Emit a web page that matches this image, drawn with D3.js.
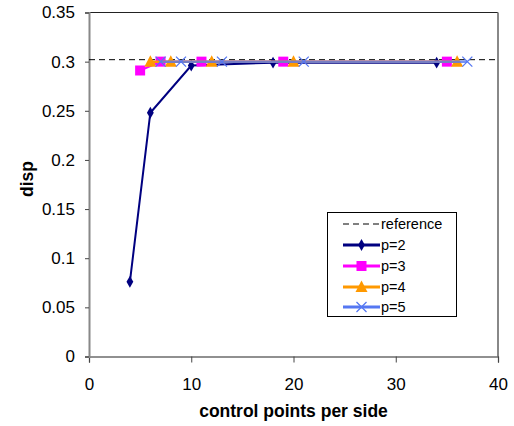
<!DOCTYPE html>
<html>
<head>
<meta charset="utf-8">
<script src="https://cdn.jsdelivr.net/npm/d3@7"></script>
<style>
body { margin: 0; background: #fff; }
svg { display: block; font-family: "Liberation Sans", Arial, sans-serif; }
</style>
</head>
<body>
<svg width="514" height="426"></svg>
<script>
// values
const xP2 = [4, 6, 10, 18, 34];
const yP2 = [0.076, 0.248, 0.296, 0.299, 0.299];
const xP3 = [5, 7, 11, 19, 35];
const yP3 = [0.291, 0.3, 0.3, 0.3, 0.3];
const xP4 = [6, 8, 12, 20, 36];
const yP4 = [0.3, 0.3, 0.3, 0.3, 0.3];
const xP5 = [7, 9, 13, 21, 37];
const yP5 = [0.3, 0.3, 0.3, 0.3, 0.3];
const refValue = 0.302;
const xTicks = [0, 10, 20, 30, 40];
const yTicks = [0, 0.05, 0.1, 0.15, 0.2, 0.25, 0.3, 0.35];
const seriesNames = ["p=2", "p=3", "p=4", "p=5"];

const series = [
  {name: seriesNames[0], xs: xP2, ys: yP2, color: "#000080", width: 2, marker: "diamond"},
  {name: seriesNames[1], xs: xP3, ys: yP3, color: "#FF00FF", width: 2, marker: "square"},
  {name: seriesNames[2], xs: xP4, ys: yP4, color: "#FF9900", width: 2.5, marker: "triangle"},
  {name: seriesNames[3], xs: xP5, ys: yP5, color: "#5577F2", width: 2.5, marker: "x"},
];

const pLeft = 89, pRight = 498, pTop = 12.5, pBottom = 356.5;
const svg = d3.select("svg");

const x = d3.scaleLinear().domain([0, 40]).range([pLeft, pRight]);
const y = d3.scaleLinear().domain([0, 0.35]).range([pBottom, pTop]);

// plot frame
svg.append("line").attr("x1", pLeft).attr("x2", pRight).attr("y1", pTop).attr("y2", pTop)
  .attr("stroke", "#222").attr("stroke-width", 1.2);
svg.append("line").attr("x1", pRight).attr("x2", pRight).attr("y1", pTop).attr("y2", pBottom)
  .attr("stroke", "#888").attr("stroke-width", 2);

// axes
const xAxis = svg.append("g").attr("transform", `translate(0,${pBottom})`)
  .call(d3.axisBottom(x).tickValues(xTicks).tickSize(6).tickPadding(15).tickFormat(d3.format("d")));
const yAxis = svg.append("g").attr("transform", `translate(${pLeft},0)`)
  .call(d3.axisLeft(y).tickValues(yTicks).tickSize(4).tickPadding(10).tickFormat(d => d === 0 ? "0" : String(+d.toFixed(2))));
xAxis.select(".domain").attr("stroke", "#222").attr("stroke-width", 1.2);
yAxis.select(".domain").attr("stroke", "#888").attr("stroke-width", 2);
[xAxis, yAxis].forEach(a => {
  a.selectAll(".tick line").attr("stroke", "#444");
  a.selectAll(".tick text").attr("fill", "#000").style("font-size", "17px")
    .style("font-family", "'Liberation Sans', Arial, sans-serif");
});

// reference line
svg.append("line").attr("x1", pLeft).attr("x2", pRight)
  .attr("y1", y(refValue)).attr("y2", y(refValue))
  .attr("stroke", "#000").attr("stroke-width", 1).attr("stroke-dasharray", "6,4");

const line = d3.line().x(d => x(d[0])).y(d => y(d[1]));

function drawMarker(g, type, cx, cy, color) {
  if (type === "diamond") {
    g.append("path").attr("d", d3.symbol(d3.symbolDiamond, 40)())
      .attr("transform", `translate(${cx},${cy})`).attr("fill", color);
  } else if (type === "square") {
    g.append("rect").attr("x", cx - 5).attr("y", cy - 5).attr("width", 10).attr("height", 10)
      .attr("fill", color);
  } else if (type === "triangle") {
    g.append("path").attr("d", `M${cx},${cy - 6.5}L${cx + 6},${cy + 5}L${cx - 6},${cy + 5}Z`)
      .attr("fill", color);
  } else {
    g.append("path").attr("d", `M${cx - 5},${cy - 5}L${cx + 5},${cy + 5}M${cx - 5},${cy + 5}L${cx + 5},${cy - 5}`)
      .attr("stroke", color).attr("stroke-width", 1.3).attr("fill", "none");
  }
}

// draw series back to front like the original (p=5 on top)
series.forEach(s => {
  const pts = s.xs.map((v, i) => [v, s.ys[i]]);
  const g = svg.append("g");
  g.append("path").datum(pts).attr("d", line)
    .attr("fill", "none").attr("stroke", s.color).attr("stroke-width", s.width)
    .attr("stroke-opacity", s.marker === "x" ? 0.8 : 1);
  pts.forEach(p => drawMarker(g, s.marker, x(p[0]), y(p[1]), s.color));
});

// axis titles
svg.append("text").attr("x", (pLeft + pRight) / 2).attr("y", 417).attr("text-anchor", "middle")
  .style("font-size", "17.5px").style("font-weight", "bold").text("control points per side");
svg.append("text").attr("transform", "translate(33,179) rotate(-90)")
  .attr("text-anchor", "middle").style("font-size", "17.5px").style("font-weight", "bold").text("disp");

// legend
const lg = svg.append("g");
lg.append("rect").attr("x", 327.5).attr("y", 212.5).attr("width", 129).attr("height", 104)
  .attr("fill", "#fff").attr("stroke", "#000").attr("stroke-width", 1);
const rowY = [224, 245, 266, 287, 307];
lg.append("line").attr("x1", 343).attr("x2", 380).attr("y1", rowY[0]).attr("y2", rowY[0])
  .attr("stroke", "#000").attr("stroke-dasharray", "6,4");
lg.append("text").attr("x", 381).attr("y", rowY[0] + 5).style("font-size", "14.5px").text("reference");
series.forEach((s, i) => {
  const yy = rowY[i + 1];
  lg.append("line").attr("x1", 343).attr("x2", 380).attr("y1", yy).attr("y2", yy)
    .attr("stroke", s.color).attr("stroke-width", 3);
  drawMarker(lg, s.marker, 361.5, yy, s.color);
  lg.append("text").attr("x", 381).attr("y", yy + 5).style("font-size", "14.5px").text(s.name);
});
</script>
</body>
</html>
